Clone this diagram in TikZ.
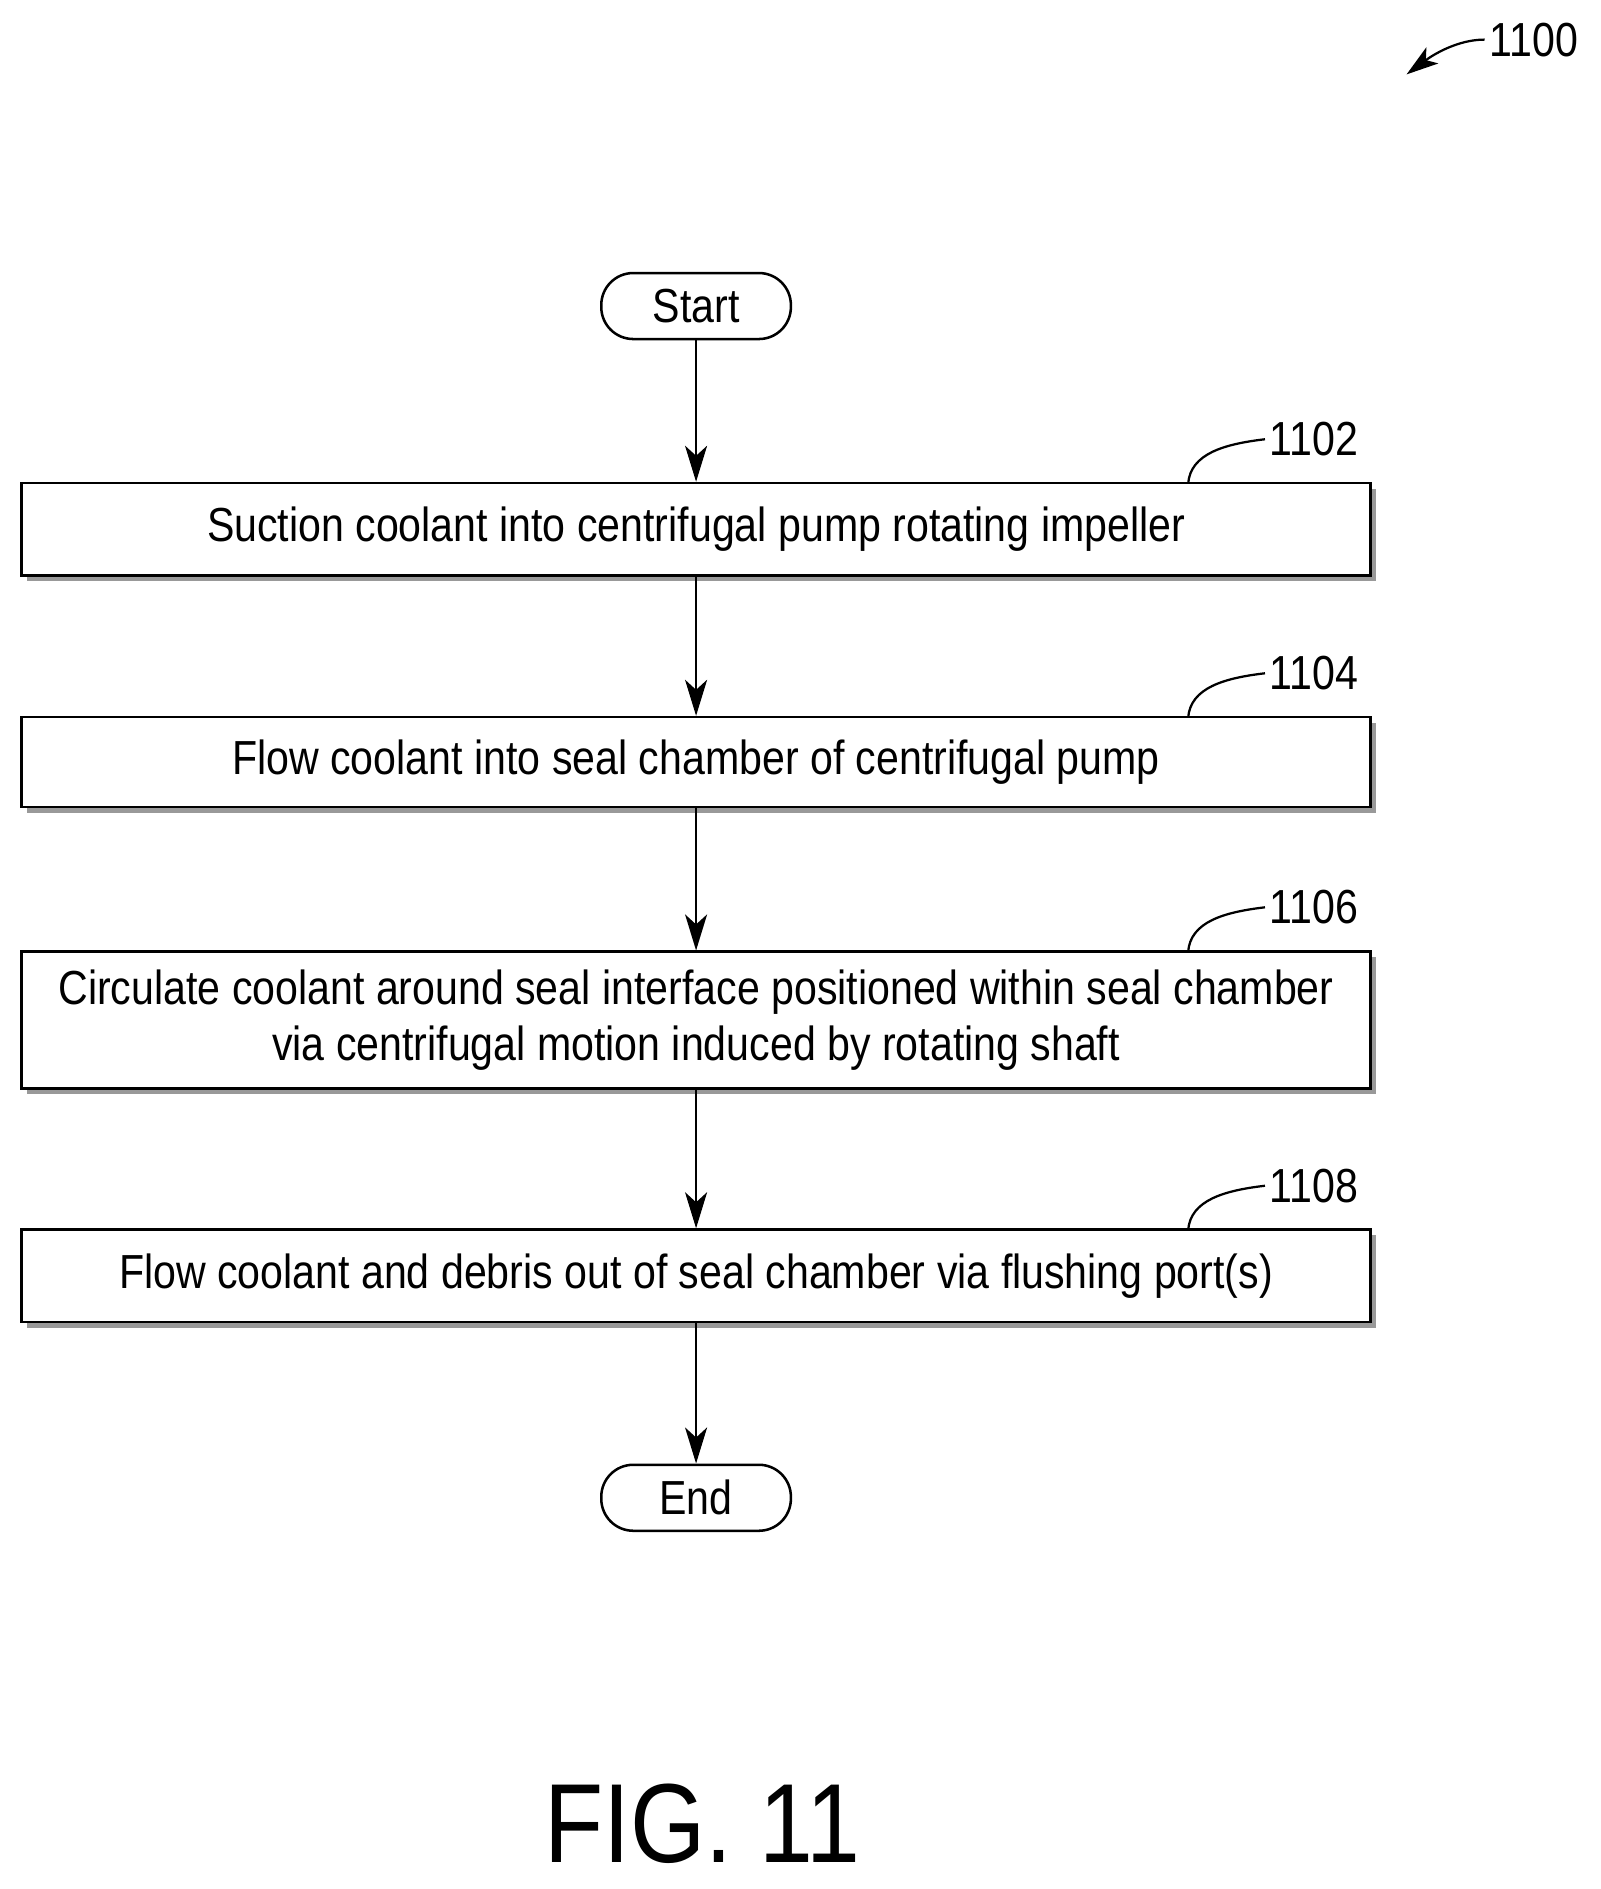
\documentclass[tikz,border=0pt]{standalone}
\usepackage{fontspec}
\setmainfont{Liberation Sans}[FakeStretch=0.86]
\usetikzlibrary{arrows,arrows.meta,positioning,shadows}
\begin{document}
\begin{tikzpicture}[x=0.03cm,y=-0.03cm,>=stealth',
    stepbox/.style={draw,fill=white,line width=1.8pt,minimum width=1124*0.03cm,align=center,
        font=\fontsize{34}{40}\selectfont,
        drop shadow={shadow xshift=4pt,shadow yshift=-4pt,fill=gray!80,opacity=1}},
    term/.style={draw,line width=1.8pt,rounded corners=0.8cm,minimum width=158*0.03cm,
        minimum height=55*0.03cm,font=\fontsize{34}{40}\selectfont},
    flow/.style={-{Stealth[length=0.9cm,width=0.55cm,inset=0.25cm]},line width=1.8pt},
    refnum/.style={font=\fontsize{34}{40}\selectfont}]
  \useasboundingbox (0,0) rectangle (1334,1574);
  \node[term] (start) at (580,255) {Start};
  \node[stepbox,minimum height=77*0.03cm] (1102) at (580,441) {Suction coolant into centrifugal pump rotating impeller};
  \node[stepbox,minimum height=75*0.03cm] (1104) at (580,635) {Flow coolant into seal chamber of centrifugal pump};
  \node[stepbox,minimum height=114*0.03cm] (1106) at (580,850) {Circulate coolant around seal interface positioned within seal chamber\\via centrifugal motion induced by rotating shaft};
  \node[stepbox,minimum height=77*0.03cm] (1108) at (580,1063) {Flow coolant and debris out of seal chamber via flushing port(s)};
  \node[term] (end) at (580,1248) {End};

  % connectors
  \draw[flow] (start) -- (1102);
  \draw[flow] (1102) -- (1104);
  \draw[flow] (1104) -- (1106);
  \draw[flow] (1106) -- (1108);
  \draw[flow] (1108) -- (end);

  % reference numerals
  \foreach \n/\y in {1102/403,1104/598,1106/793,1108/1025}{
    \node[refnum] (l\n) at (1095,\y-37) {\n};
    \draw[line width=1.6pt] (990,\y) .. controls (992,\y-25) and (1020,\y-33) .. (l\n.west);
  }
  \node[refnum] (l1100) at (1278,33) {1100};
  \draw[-{Stealth[length=0.8cm,width=0.5cm,inset=0.2cm]},line width=1.6pt] (l1100.west) .. controls (1215,33) and (1195,45) .. (1172,62);
  \node[font=\fontsize{80}{90}\selectfont] (fig) at (585,1520) {FIG. 11};
\end{tikzpicture}
\end{document}
